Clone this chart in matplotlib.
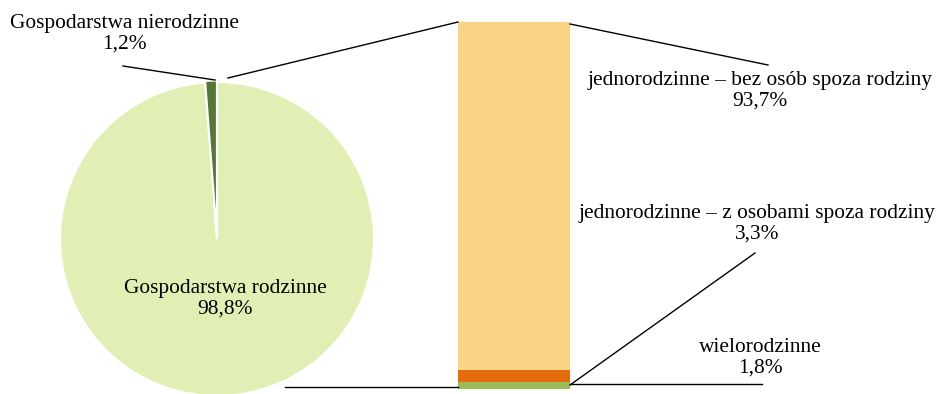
import matplotlib.pyplot as plt

# === Data ===
pie_labels = ["Gospodarstwa rodzinne", "Gospodarstwa nierodzinne"]
pie_values = [98.8, 1.2]
pie_colors = ["#E1EFB4", "#55773A"]

bar_labels = ["wielorodzinne",
              "jednorodzinne – z osobami spoza rodziny",
              "jednorodzinne – bez osób spoza rodziny"]
bar_values = [1.8, 3.3, 93.7]
bar_colors = ["#9BBB59", "#E46C0A", "#FAD384"]

W, H = 939, 394


def Y(y):
    # pixel row (from top) -> axis coordinate (from bottom)
    return H - y


def pct(v):
    return f"{v:.1f}".replace(".", ",") + "%"


plt.rcParams['font.family'] = ['Liberation Serif', 'DejaVu Serif']

fig = plt.figure(figsize=(W / 100, H / 100), dpi=100)
ax = fig.add_axes([0, 0, 1, 1])

# === Pie ===
ax.pie(pie_values, colors=pie_colors, startangle=90, counterclock=False,
       center=(217, Y(239)), radius=157, explode=[0, 1.5],
       wedgeprops=dict(edgecolor="white", linewidth=1.5))

# === Stacked bar ===
bar_x, bar_w = 514, 112
bar_bottom, bar_top = Y(389), Y(22)
scale = (bar_top - bar_bottom) / sum(bar_values)
bottom = bar_bottom
for v, c in zip(bar_values, bar_colors):
    ax.bar(bar_x, v * scale, bottom=bottom, width=bar_w, color=c,
           linewidth=0)
    bottom += v * scale

bl, br = bar_x - bar_w / 2, bar_x + bar_w / 2

# === Connector / leader lines ===
lk = dict(color="black", linewidth=1.0)
ax.plot([228, bl], [Y(78), bar_top], **lk)
ax.plot([285, bl], [Y(387), Y(387)], **lk)
ax.plot([123, 215], [Y(66), Y(80)], **lk)
ax.plot([br, 768], [Y(24), Y(65)], **lk)
ax.plot([br, 755], [Y(385), Y(253)], **lk)
ax.plot([br, 762], [Y(384), Y(384)], **lk)

# === Labels ===
tk = dict(ha="center", va="center", fontsize=15.4, linespacing=1.12)
ax.text(124, Y(34), f"{pie_labels[1]}\n{pct(pie_values[1])}", **tk)
ax.text(225, Y(299), f"{pie_labels[0]}\n{pct(pie_values[0])}", **tk)
label_y = [358, 224, 91]
label_x = [760, 757, 760]
for lab, v, lx, ly in zip(bar_labels, bar_values, label_x, label_y):
    ax.text(lx, Y(ly), f"{lab}\n{pct(v)}", **tk)

ax.set_xlim(0, W)
ax.set_ylim(0, H)
ax.axis("off")

fig.savefig("out.png", dpi=100)
